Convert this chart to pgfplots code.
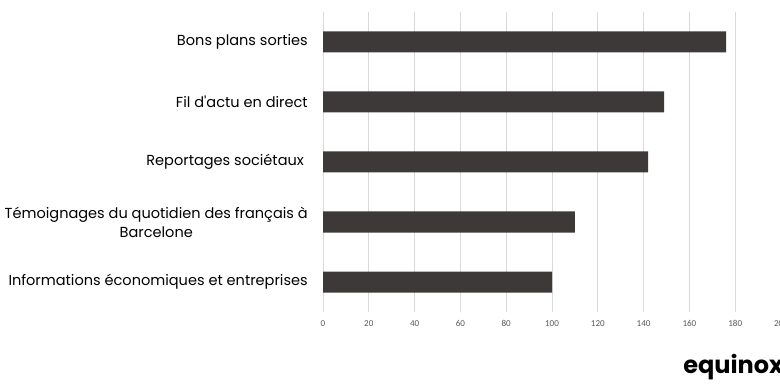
\documentclass[border=0pt]{standalone}
\usepackage{fontspec}
\setmainfont{Poppins}
\newfontfamily\tickfont{Carlito}
\usepackage{pgfplots}
\pgfplotsset{compat=1.18}
\definecolor{barc}{HTML}{3D3939}
\definecolor{gridc}{HTML}{D9D9D9}
\definecolor{tickc}{HTML}{595959}
\begin{document}
\begin{tikzpicture}
\path[use as bounding box] (0,0) rectangle (585pt,291.75pt);
\clip (0,0) rectangle (585pt,291.75pt);
\begin{axis}[
  at={(242.25pt,57.75pt)}, anchor=south west,
  scale only axis, width=343.5pt, height=225pt,
  xbar, bar width=15.75pt,
  xmin=0, xmax=200, ymin=-0.5, ymax=4.5,
  xtick={0,20,...,200},
  ytick={0,1,2,3,4},
  yticklabels={Informations économiques et entreprises, {Témoignages du quotidien des français à\\Barcelone}, {Reportages sociétaux\ }, Fil d\textquotesingle actu en direct, Bons plans sorties},
  yticklabel style={align=center, anchor=east, inner sep=0pt, xshift=-11.25pt, font=\fontsize{10.9}{14.25}\selectfont, text=black},
  xticklabel style={anchor=center, inner sep=0pt, yshift=-8.5pt, font=\tickfont\fontsize{6.8}{8}\selectfont, text=tickc},
  /pgf/number format/assume math mode=true,
  xmajorgrids, grid style={gridc, line width=0.75pt},
  axis line style={draw=none}, major tick length=0pt,
  tick style={draw=none},
]
\addplot[fill=barc, draw=none] coordinates {(100,0) (110,1) (142,2) (149,3) (176,4)};
\end{axis}
\node[anchor=base west, inner sep=0pt, font=\bfseries\fontsize{18}{20}\selectfont] at (512.25pt,12pt) {equinox};
\end{tikzpicture}
\end{document}
